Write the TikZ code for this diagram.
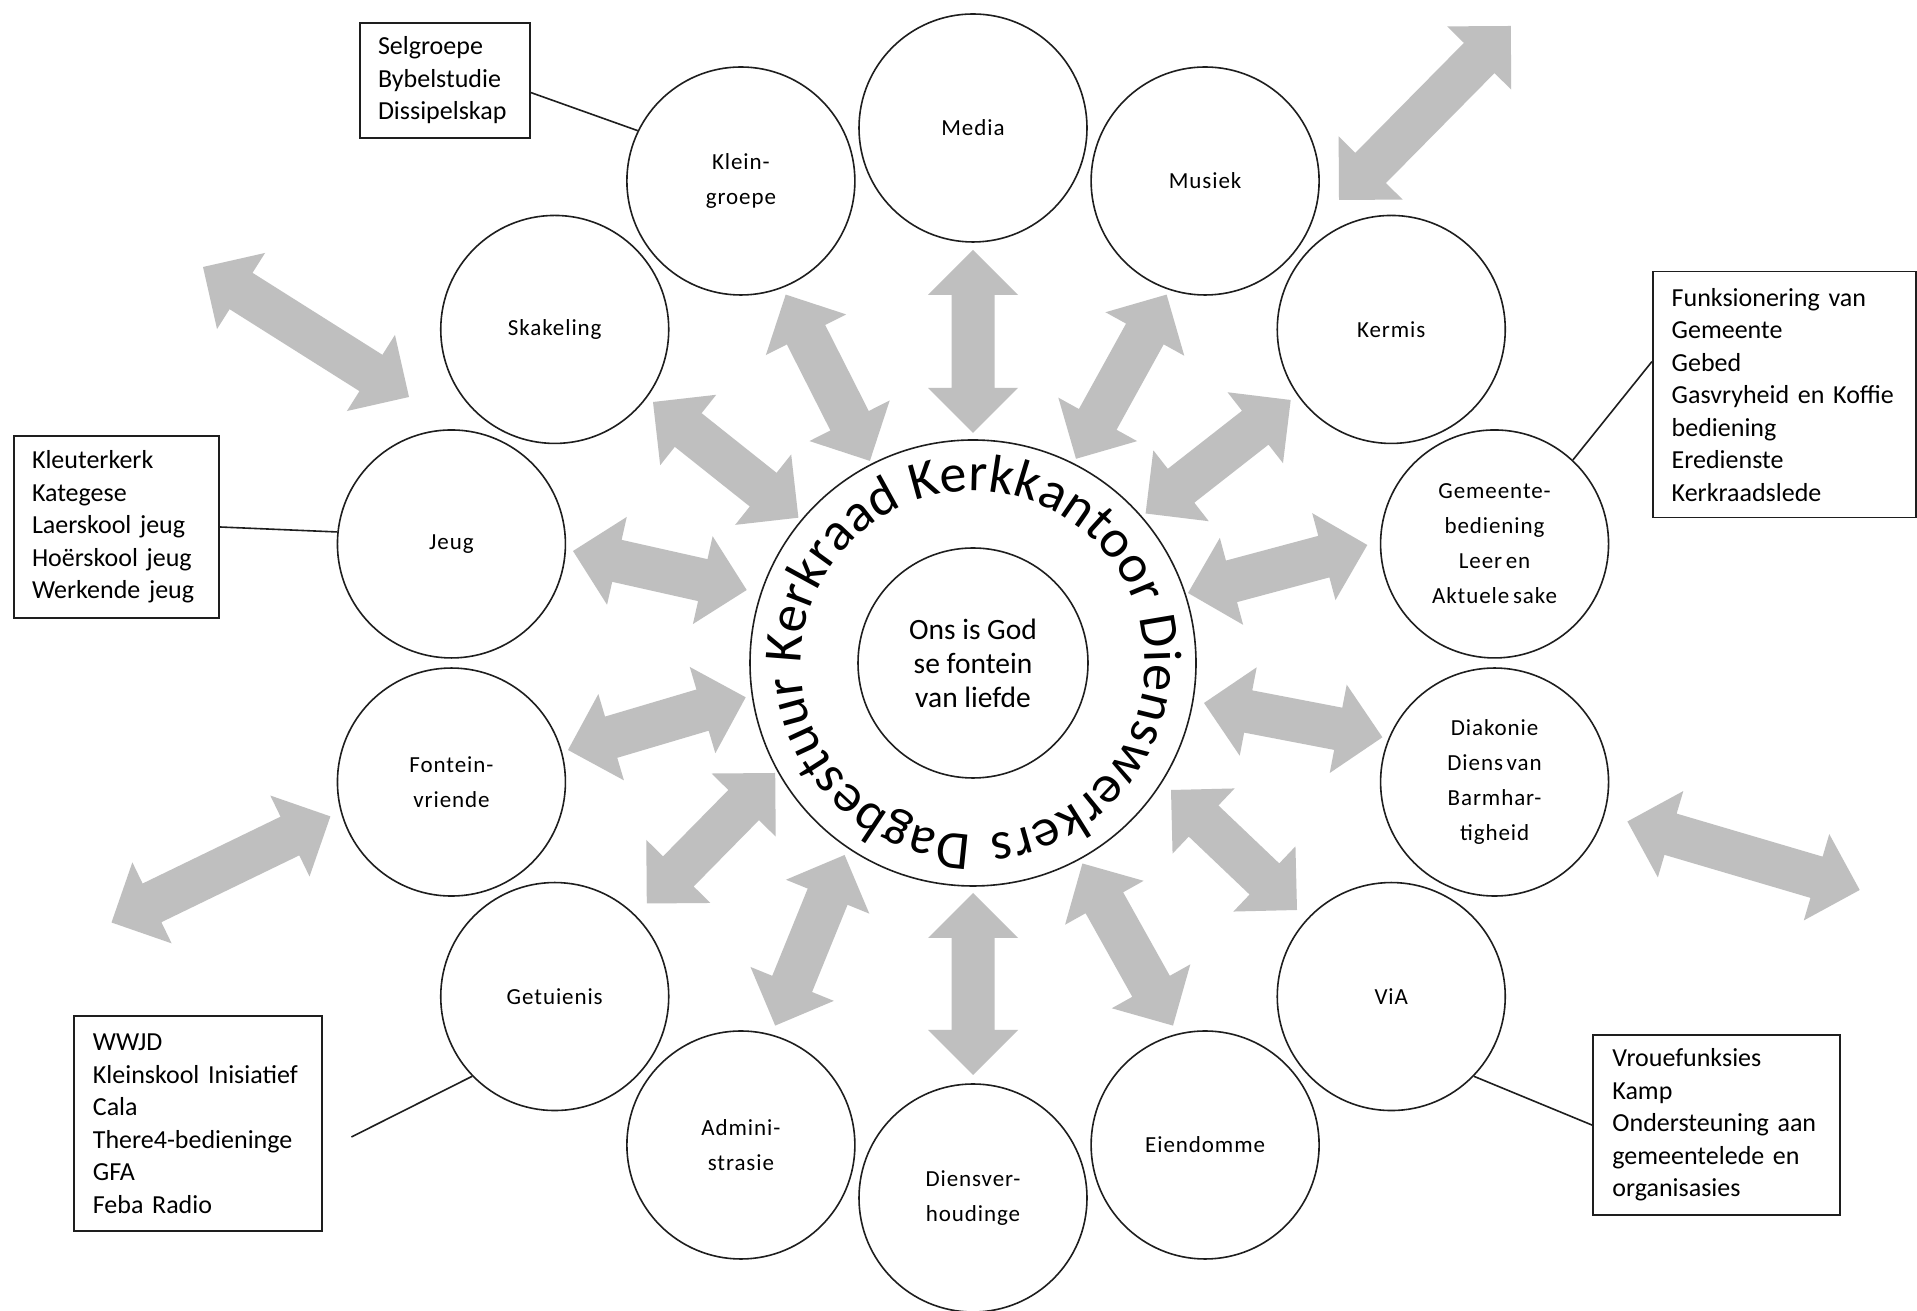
\documentclass[tikz,border=0pt]{standalone}
\usepackage{fontspec}
\setmainfont{Carlito}
\newfontfamily\circfont[LetterSpace=4,WordSpace=0.6]{Carlito}
\usetikzlibrary{calc,decorations.text}
\definecolor{arrowgray}{RGB}{191,191,191}
\definecolor{inkline}{RGB}{30,30,30}
\newcommand\arrHL{45pt}
\newcommand\arrHW{45pt}
\newcommand\arrSW{21.5pt}
\newcommand\ringfont{\fontsize{54}{64}\selectfont}
\newcommand{\dblarrow}[2]{%
  \fill[arrowfill] let \p1=($(#2)-(#1)$), \n1={atan2(\y1,\x1)}, \n2={veclen(\x1,\y1)} in
    (#1) -- ($(#1)+(\n1:\arrHL)+(\n1+90:\arrHW)$)
    -- ($(#1)+(\n1:\arrHL)+(\n1+90:\arrSW)$)
    -- ($(#1)+(\n1:\n2-\arrHL)+(\n1+90:\arrSW)$)
    -- ($(#1)+(\n1:\n2-\arrHL)+(\n1+90:\arrHW)$)
    -- (#2)
    -- ($(#1)+(\n1:\n2-\arrHL)+(\n1-90:\arrHW)$)
    -- ($(#1)+(\n1:\n2-\arrHL)+(\n1-90:\arrSW)$)
    -- ($(#1)+(\n1:\arrHL)+(\n1-90:\arrSW)$)
    -- ($(#1)+(\n1:\arrHL)+(\n1-90:\arrHW)$)
    -- cycle;}
\begin{document}
\begin{tikzpicture}[x=1pt,y=1pt,
  circ/.style={circle,draw=inkline,line width=1.6pt,minimum size=228pt,inner sep=0pt,align=center,
    font=\circfont\fontsize{23}{35}\selectfont},
  listbox/.style={rectangle,draw=inkline,line width=1.6pt,align=left,inner ysep=0pt,
    font=\fontsize{26}{32.5}\selectfont},
  link/.style={draw=inkline,line width=1.6pt},
  arrowfill/.style={fill=arrowgray}]
\useasboundingbox (0,0) rectangle (1917,1311);
\fill[white] (0,0) rectangle (1917,1311);
\coordinate (C) at (973,648);
% ---- arrow end points ----
\coordinate (mediaO) at (973,1061);   \coordinate (mediaI) at (973,878);
\coordinate (musiekO) at (1166.6,1016.4); \coordinate (musiekI) at (1076,852.2);
\coordinate (kermisO) at (1290.7,911); \coordinate (kermisI) at (1145.6,797.5);
\coordinate (gemO) at (1367.3,766);    \coordinate (gemI) at (1188,718);
\coordinate (diakO) at (1382.4,573.7); \coordinate (diakI) at (1204,608);
\coordinate (viaO) at (1297,401);      \coordinate (viaI) at (1171,521);
\coordinate (eienO) at (1173,285.4);   \coordinate (eienI) at (1082.4,447.5);
\coordinate (diensO) at (973,236);     \coordinate (diensI) at (973,418);
\coordinate (adminO) at (775.2,285.4); \coordinate (adminI) at (844.6,456);
\coordinate (getO) at (646.8,407.5);   \coordinate (getI) at (775.2,538);
\coordinate (fontO) at (568,561);      \coordinate (fontI) at (745.7,613.7);
\coordinate (jeugO) at (573,760);      \coordinate (jeugI) at (746.7,721);
\coordinate (skakO) at (653,909);      \coordinate (skakI) at (798.4,793.3);
\coordinate (kleinO) at (785.7,1016.4); \coordinate (kleinI) at (869.9,850.1);
\coordinate (xA1) at (203,1044);   \coordinate (xA2) at (409,914);
\coordinate (xB1) at (1510.8,1285); \coordinate (xB2) at (1339,1111);
\coordinate (xC1) at (330.4,494.6); \coordinate (xC2) at (111.5,388.5);
\coordinate (xD1) at (1627.4,489.5); \coordinate (xD2) at (1859.7,421);
% ---- arrows ----
\dblarrow{mediaO}{mediaI}
\dblarrow{musiekO}{musiekI}
\dblarrow{kermisO}{kermisI}
\dblarrow{gemO}{gemI}
\dblarrow{diakO}{diakI}
\dblarrow{viaO}{viaI}
\dblarrow{eienO}{eienI}
\dblarrow{diensO}{diensI}
\dblarrow{adminO}{adminI}
\dblarrow{getO}{getI}
\dblarrow{fontO}{fontI}
\dblarrow{jeugO}{jeugI}
\dblarrow{skakO}{skakI}
\dblarrow{kleinO}{kleinI}
\dblarrow{xA1}{xA2}
\dblarrow{xB1}{xB2}
\dblarrow{xC1}{xC2}
\dblarrow{xD1}{xD2}
% ---- centre ----
\node[circle,draw=inkline,line width=1.6pt,minimum size=446pt,inner sep=0pt] (ring) at (C) {};
\node[circle,draw=inkline,line width=1.6pt,minimum size=230pt,inner sep=0pt,align=center,
  font=\fontsize{29.5}{34}\selectfont] (god) at (C) {Ons is God\\se fontein\\van liefde};
\path[decorate,decoration={text along path,
  text={|\ringfont|Dagbestuur Kerkraad Kerkkantoor Dienswerkers},text align=fit to path}]
  ($(C)+(269.5:172)$) arc[start angle=269.5,end angle=-84.5,radius=172];
% ---- circles ----
\node[circ] (media)  at ($(C)+(90:535)$) {Media};
\node[circ] (musiek) at ($(C)+({90-360/14}:535)$) {Musiek};
\node[circ] (kermis) at ($(C)+({90-2*360/14}:535)$) {Kermis};
\node[circ] (gem)    at ($(C)+({90-3*360/14}:535)$) {Gemeente-\\bediening\\Leer en\\Aktuele sake};
\node[circ] (diak)   at ($(C)+({90-4*360/14}:535)$) {Diakonie\\Diens van\\Barmhar-\\tigheid};
\node[circ] (via)    at ($(C)+({90-5*360/14}:535)$) {ViA};
\node[circ] (eien)   at ($(C)+({90-6*360/14}:535)$) {Eiendomme};
\node[circ] (diens)  at ($(C)+({90-7*360/14}:535)$) {Diensver-\\houdinge};
\node[circ] (admin)  at ($(C)+({90-8*360/14}:535)$) {Admini-\\strasie};
\node[circ] (get)    at ($(C)+({90-9*360/14}:535)$) {Getuienis};
\node[circ] (font)   at ($(C)+({90-10*360/14}:535)$) {Fontein-\\vriende};
\node[circ] (jeug)   at ($(C)+({90-11*360/14}:535)$) {Jeug};
\node[circ] (skak)   at ($(C)+({90-12*360/14}:535)$) {Skakeling};
\node[circ] (klein)  at ($(C)+({90-13*360/14}:535)$) {Klein-\\groepe};
% ---- boxes ----
\node[listbox,inner xsep=18pt,text width=134pt,minimum width=170pt,minimum height=115pt] (selbox)
  at (445,1230.5) {Selgroepe\\Bybelstudie\\Dissipelskap};
\node[listbox,inner xsep=18pt,text width=169pt,minimum width=205pt,minimum height=182pt] (kbox)
  at (116.5,784) {Kleuterkerk\\Kategese\\Laerskool jeug\\Hoërskool jeug\\Werkende jeug};
\node[listbox,inner xsep=19pt,text width=225pt,minimum width=263pt,minimum height=246pt] (fbox)
  at (1784.2,916.4) {Funksionering van\\Gemeente\\Gebed\\Gasvryheid en Koffie\\bediening\\Eredienste\\Kerkraadslede};
\node[listbox,inner xsep=19pt,text width=210pt,minimum width=248pt,minimum height=214.7pt] (wbox)
  at (197.9,187.4) {WWJD\\Kleinskool Inisiatief\\Cala\\There4-bedieninge\\GFA\\Feba Radio};
\node[listbox,inner xsep=19.5pt,text width=208pt,minimum width=247pt,minimum height=180pt] (vbox)
  at (1716.4,185.9) {Vrouefunksies\\Kamp\\Ondersteuning aan\\gemeentelede en\\organisasies};
% ---- connectors ----
\coordinate (wfree) at (351.4,174);
\draw[link] (selbox.-8.4) -- (klein.154.8);
\draw[link] (kbox.east) -- (jeug.174);
\draw[link] (fbox.166.9) -- (gem.47.2);
\draw[link] (wfree) -- (get.224.1);
\draw[link] (vbox.west) -- (via.-44.3);
\end{tikzpicture}
\end{document}
